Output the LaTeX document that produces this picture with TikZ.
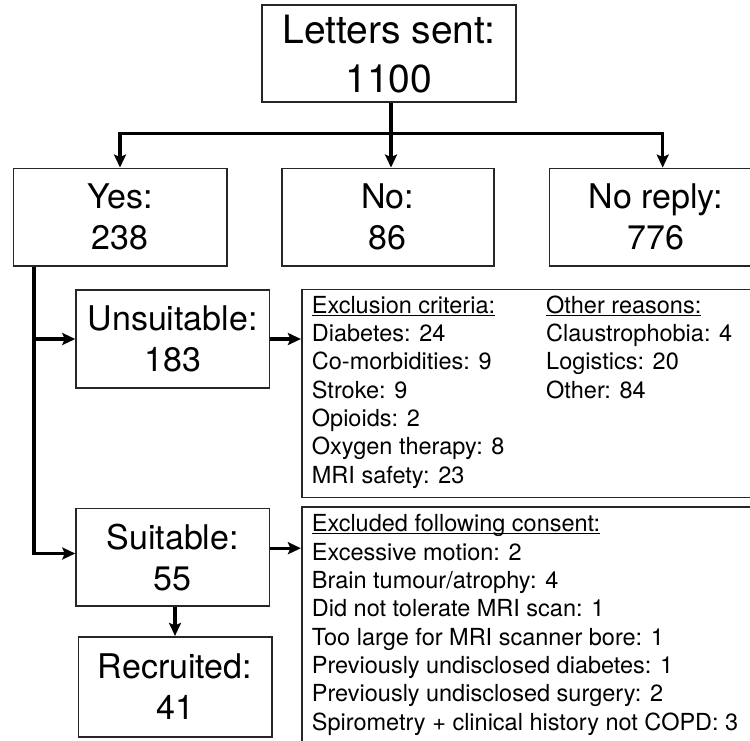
\documentclass[tikz,border=0pt]{standalone}
\usepackage{fontspec}
\setmainfont{TeX Gyre Heros}
\usetikzlibrary{arrows.meta}
\newcommand\hdul[1]{\setbox0\hbox{#1}\rlap{\rule[-2.4pt]{\wd0}{1.2pt}}\box0}
\begin{document}
\begin{tikzpicture}[x=1pt,y=-1pt,
  box/.style={draw=black!85, line width=1.6pt, inner sep=0pt, align=center},
  big/.style={font=\fontsize{39}{49}\selectfont},
  mid/.style={font=\fontsize{34}{41}\selectfont},
  small/.style={font=\fontsize{23.5}{28.33}\selectfont, inner sep=0pt, anchor=base west},
  conn/.style={line width=3.4pt, line join=miter},
  arr/.style={conn, -{Stealth[length=13pt,width=12pt,inset=2.5pt]}},
]
\clip (0,0) rectangle (750,740);
\node[box,big,minimum width=254pt,minimum height=97pt] (top) at (388.7,53.7) {Letters sent:\\1100};
\node[box,mid,minimum width=213.4pt,minimum height=97.7pt] (yes) at (120,217.2) {Yes:\\238};
\node[box,mid,minimum width=212.3pt,minimum height=97.7pt] (no) at (387.9,217.2) {No:\\86};
\node[box,mid,minimum width=213.4pt,minimum height=97.7pt] (noreply) at (656,217.2) {No reply:\\776};
\node[box,mid,minimum width=193.3pt,minimum height=98pt] (unsuit) at (172.7,339) {Unsuitable:\\183};
\node[box,mid,minimum width=193.3pt,minimum height=97.7pt] (suit) at (172.7,557.2) {Suitable:\\55};
\node[box,mid,minimum width=193.4pt,minimum height=100pt] (recr) at (175,686.7) {Recruited:\\41};
\node[box,minimum width=478.3pt,minimum height=208pt] (excl) at (540.85,393.3) {};
\node[box,minimum width=478.3pt,minimum height=253.3pt] (excd) at (540.85,633.35) {};
\node[small] (exA) at (311.7,313.3) {\vtop{\hbox{\hdul{Exclusion criteria:}}\hbox{Diabetes: 24}\hbox{Co-morbidities: 9}\hbox{Stroke: 9}\hbox{Opioids: 2}\hbox{Oxygen therapy: 8}\hbox{MRI safety: 23}}};
\node[small] (exB) at (546,313.3) {\vtop{\hbox{\hdul{Other reasons:}}\hbox{Claustrophobia: 4}\hbox{Logistics: 20}\hbox{Other: 84}}};
\node[small] (cons) at (311.7,531.7) {\vtop{\hbox{\hdul{Excluded following consent:}}\hbox{Excessive motion: 2}\hbox{Brain tumour/atrophy: 4}\hbox{Did not tolerate MRI scan: 1}\hbox{Too large for MRI scanner bore: 1}\hbox{Previously undisclosed diabetes: 1}\hbox{Previously undisclosed surgery: 2}\hbox{Spirometry + clinical history not COPD: 3}}};
\coordinate (hj) at (391,133.5);
\coordinate (vl) at (34,266);
\draw[conn] (top.south -| hj) -- (hj);
\draw[arr] (hj) -- (no.north -| hj);
\draw[arr] (hj) -| (yes.north);
\draw[arr] (hj) -| ([xshift=6.7pt]noreply.north);
\draw[arr] (yes.south -| vl) |- ([yshift=3.7pt]suit.west);
\draw[arr] (unsuit.west -| vl) -- (unsuit.west);
\draw[arr] (unsuit.east) -- (unsuit.east -| excl.west);
\draw[arr] ([yshift=9pt]suit.east) -- ([yshift=9pt]suit.east -| excd.west);
\draw[arr] (suit.south -| recr.north) -- (recr.north);
\end{tikzpicture}
\end{document}
